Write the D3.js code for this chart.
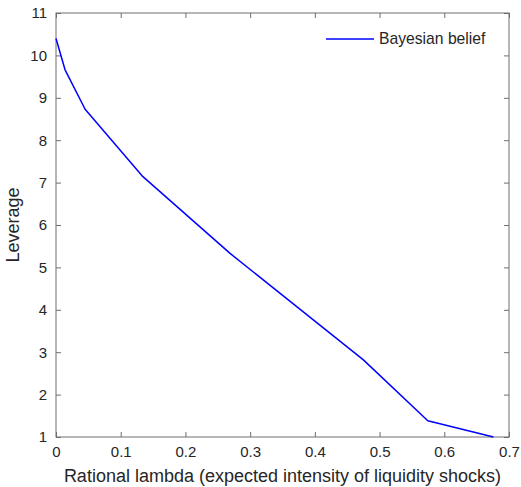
<!DOCTYPE html>
<html><head><meta charset="utf-8">
<script src="https://cdn.jsdelivr.net/npm/d3@7"></script>
<style>
html,body{margin:0;padding:0;background:#fff;}
text{font-family:"Liberation Sans",Arial,Helvetica,sans-serif;fill:#262626;}
</style></head>
<body>
<svg id="chart" width="521" height="487"></svg>
<script>
const lambdaValues = [0, 0.014, 0.045, 0.133, 0.269, 0.475, 0.5745, 0.676];
const leverageValues = [10.40, 9.66, 8.73, 7.16, 5.33, 2.82, 1.385, 1.0];
const xTicks = [0, 0.1, 0.2, 0.3, 0.4, 0.5, 0.6, 0.7];
const yTicks = [1, 2, 3, 4, 5, 6, 7, 8, 9, 10, 11];
const seriesName = "Bayesian belief";
const xLabel = "Rational lambda (expected intensity of liquidity shocks)";
const yLabel = "Leverage";

const W = 521, H = 487;
const m = {left: 56, right: 12, top: 13, bottom: 50};
const svg = d3.select("#chart");
const x = d3.scaleLinear().domain([0, 0.7]).range([m.left, W - m.right]);
const y = d3.scaleLinear().domain([1, 11]).range([H - m.bottom, m.top]);
const axisColor = "#6f6f6f";
const tickLen = 5;

function styleAxis(g){
  g.select(".domain").remove();
  g.selectAll(".tick line").attr("stroke", axisColor);
  g.selectAll(".tick text").style("font-size", "15px").attr("fill", "#262626");
}
// bottom
svg.append("g").attr("transform", `translate(0,${y(1)})`)
  .call(d3.axisBottom(x).tickValues(xTicks).tickFormat(d3.format("")).tickSize(-tickLen).tickPadding(9))
  .call(styleAxis);
// top
svg.append("g").attr("transform", `translate(0,${y(11)})`)
  .call(d3.axisTop(x).tickValues(xTicks).tickSize(-tickLen).tickFormat(""))
  .call(styleAxis);
// left
svg.append("g").attr("transform", `translate(${x(0)},0)`)
  .call(d3.axisLeft(y).tickValues(yTicks).tickFormat(d3.format("")).tickSize(-tickLen).tickPadding(9))
  .call(styleAxis);
// right
svg.append("g").attr("transform", `translate(${x(0.7)},0)`)
  .call(d3.axisRight(y).tickValues(yTicks).tickSize(-tickLen).tickFormat(""))
  .call(styleAxis);

// box
svg.append("rect")
  .attr("x", x(0)).attr("y", y(11))
  .attr("width", x(0.7) - x(0)).attr("height", y(1) - y(11))
  .attr("fill", "none").attr("stroke", axisColor).attr("stroke-width", 1);

const data = lambdaValues.map((v, i) => ({x: v, y: leverageValues[i]}));
svg.append("path").datum(data)
  .attr("fill", "none").attr("stroke", "#0000ff").attr("stroke-width", 1.5)
  .attr("stroke-linejoin", "round")
  .attr("d", d3.line().x(d => x(d.x)).y(d => y(d.y)));

// legend
const lg = svg.append("g");
lg.append("line").attr("x1", 326).attr("x2", 374).attr("y1", 39).attr("y2", 39)
  .attr("stroke", "#0000ff").attr("stroke-width", 1.5);
lg.append("text").attr("x", 379).attr("y", 39).attr("dy", "0.35em")
  .style("font-size", "15.7px").text(seriesName);

svg.append("text").attr("x", (x(0) + x(0.7)) / 2).attr("y", 482)
  .attr("text-anchor", "middle").style("font-size", "18px").text(xLabel);
svg.append("text").attr("transform", `translate(19,${(y(1) + y(11)) / 2}) rotate(-90)`)
  .attr("text-anchor", "middle").style("font-size", "18px").text(yLabel);
</script>
</body></html>
